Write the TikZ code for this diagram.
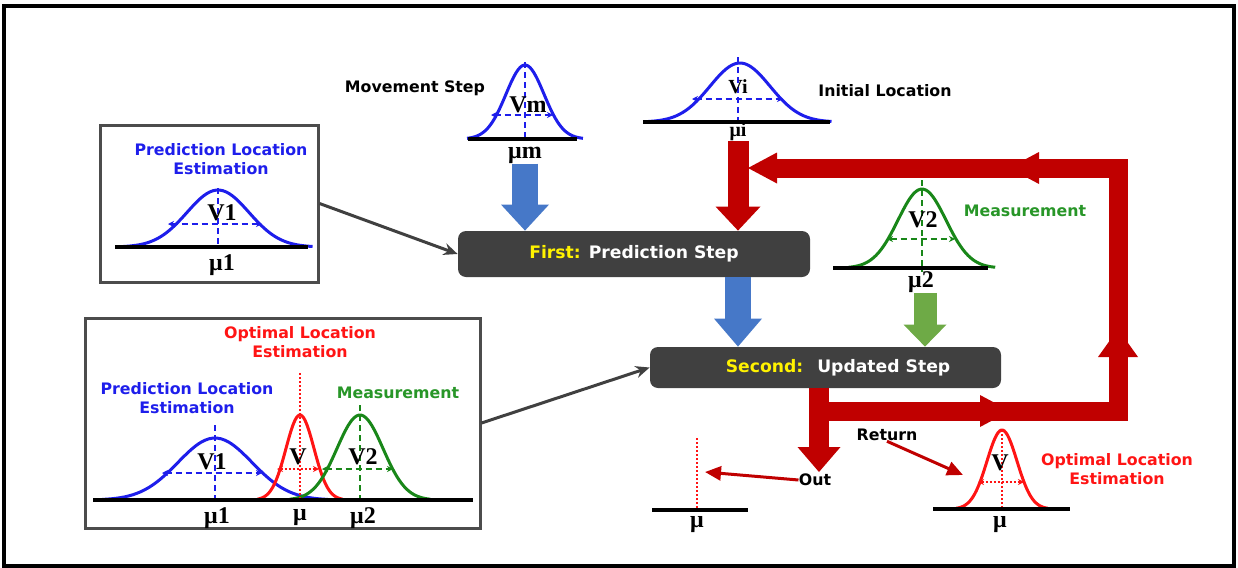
\documentclass[tikz,border=0pt]{standalone}
\usepackage{fontspec}
\setmainfont{Liberation Serif}
\setsansfont{DejaVu Sans}
\usetikzlibrary{arrows.meta,decorations.markings}
\definecolor{bcol}{RGB}{30,30,235}
\definecolor{gcol}{RGB}{25,135,25}
\definecolor{gtxt}{RGB}{40,150,40}
\definecolor{rcol}{RGB}{255,20,20}
\definecolor{dred}{RGB}{192,0,0}
\definecolor{barblue}{RGB}{70,120,200}
\definecolor{bargreen}{RGB}{110,170,70}
\definecolor{boxgray}{RGB}{64,64,64}
% bell curve: colour, mean, base line, height, sigma
\newcommand{\bell}[5]{%
  \pgfmathsetmacro\blo{#2-3.05*#5}\pgfmathsetmacro\bhi{#2+3.05*#5}
  \draw[#1,line width=1.5pt,smooth,samples=60,domain=\blo:\bhi] plot(\x,{#3-#4*exp(-((\x-#2)/#5)^2/2)});}
\begin{document}
\begin{tikzpicture}[x=0.5pt,y=-0.5pt,line join=miter,
  lbl/.style={font=\sffamily\bfseries\fontsize{7.9}{9.5}\selectfont,align=center,inner sep=0pt},
  sym/.style={font=\bfseries\fontsize{12}{13}\selectfont,inner sep=0pt},
  frame/.style={draw=black!70,line width=1.5pt,inner sep=0pt},
  stepbox/.style={fill=boxgray,rounded corners=4pt,text=white,inner sep=0pt,
    font=\sffamily\bfseries\fontsize{8.6}{10}\selectfont},
  axis/.style={line width=2pt},
  vdash/.style={line width=1pt,dash pattern=on 3pt off 2pt},
  hdash/.style={vdash,{Stealth[length=3pt,width=3pt]}-{Stealth[length=3pt,width=3pt]}},
  bar/.style n args={4}{draw=#1,line width=#2,-{Triangle[width=#3,length=#4,line width=0pt]}},
  conn/.style={draw=black!75,line width=1.5pt,-{Stealth[length=7pt,width=6pt]}},
  thinred/.style={draw=dred,line width=1.5pt,-{Triangle[length=8pt,width=7pt]}}]
\useasboundingbox (0,0) rectangle (1238,568);
\draw[line width=2pt] (4,6) rectangle (1234,566);

% boxes
\node[frame,minimum width=109pt,minimum height=78.5pt] (box1) at (209,203.5) {};
\node[frame,minimum width=197.5pt,minimum height=105pt] (box2) at (282.5,423) {};
\node[stepbox,minimum width=176pt,minimum height=23pt] (first) at (634,254)
  {{\color{yellow}First:} Prediction Step};
\node[stepbox,minimum width=175.5pt,minimum height=20.5pt] (second) at (825.5,367.5)
  {\hspace*{12.5pt}{\color{yellow}Second:}\hspace{7pt}Updated Step};

% prediction (top left box)
\node[lbl,text=bcol] (p1) at (221,159.5) {Prediction Location\\Estimation};
\bell{bcol}{218}{247}{57}{31}
\draw[bcol,vdash] (218,188) -- (218,247);
\draw[bcol,hdash] (168,224) -- (262,224);
\draw[axis] (115,247) -- (308,247);
\node[sym] (v1) at (222,213) {V1};
\node[sym] (mu1) at (222,265) {μ1};

% movement step
\node[lbl] (mv) at (415,88) {Movement Step};
\bell{bcol}{525}{139}{74}{19}
\draw[bcol,vdash] (525,62) -- (525,139);
\draw[bcol,hdash] (491,115) -- (553,115);
\draw[axis] (468,139) -- (577,139);
\node[sym] (vm) at (528,105) {Vm};
\node[sym] (mum) at (525,155) {μm};

% initial location
\node[lbl] (ini) at (885,91) {Initial Location};
\bell{bcol}{740}{122}{59}{30}
\draw[bcol,vdash] (738,57) -- (738,128);
\draw[bcol,hdash] (692,99) -- (783,99);
\draw[axis] (643,122) -- (830,122);
\node[sym,font=\bfseries\fontsize{10}{11}\selectfont] (vi) at (738,87) {Vi};
\node[sym,font=\bfseries\fontsize{10}{11}\selectfont] (mui) at (738,132) {μi};

% measurement
\node[lbl,text=gtxt] (ms) at (1025,211) {Measurement};
\bell{gcol}{922}{268}{79}{24}
\draw[gcol,vdash] (922,180) -- (922,272);
\draw[gcol,hdash] (887,239) -- (955,239);
\draw[axis] (833,268) -- (988,268);
\node[sym] (v2) at (923,220) {V2};
\node[sym] (mu2) at (921,282) {μ2};

% fusion (bottom left box)
\node[lbl,text=rcol] (o1) at (300,342) {Optimal Location\\Estimation};
\node[lbl,text=bcol] (p2) at (187,398) {Prediction Location\\Estimation};
\node[lbl,text=gtxt] (m2) at (398,393) {Measurement};
\bell{bcol}{215}{500}{62}{37}
\bell{rcol}{300}{500}{85}{14}
\bell{gcol}{360}{500}{85}{23}
\draw[bcol,vdash] (215,425) -- (215,500);
\draw[bcol,hdash] (162,473) -- (262,473);
\draw[rcol,line width=1pt,densely dotted] (300,373) -- (300,500);
\draw[rcol,hdash,densely dotted] (277,469) -- (319,469);
\draw[gcol,vdash] (360,405) -- (360,500);
\draw[gcol,hdash] (322,469) -- (393,469);
\draw[axis] (93,500) -- (473,500);
\node[sym] (v1b) at (212,462) {V1};
\node[sym] (vb) at (298,457) {V};
\node[sym] (v2b) at (363,457) {V2};
\node[sym] (mu1b) at (217,518) {μ1};
\node[sym] (mub) at (300,518) {μ};
\node[sym] (mu2b) at (363,518) {μ2};

% output
\draw[rcol,line width=1pt,densely dotted] (697,438) -- (697,510);
\draw[axis] (652,510) -- (748,510);
\node[sym] (muo) at (697,525) {μ};
\node[lbl] (out) at (815,480) {Out};
\coordinate (outtip) at (705,472);

% optimal estimate
\node[lbl,text=rcol] (o2) at (1117,469) {Optimal Location\\Estimation};
\bell{rcol}{1002}{509}{79}{15}
\draw[rcol,line width=1pt,densely dotted] (1002,430) -- (1002,509);
\draw[rcol,hdash,densely dotted] (978,482) -- (1024,482);
\draw[axis] (933,509) -- (1070,509);
\node[sym] (vr) at (1000,463) {V};
\node[sym] (mur) at (1000,525) {μ};
\node[lbl] (ret) at (887,435) {Return};
\coordinate (rtip) at (963,475);

% connectors
\draw[conn] (box1.east) -- (first.west);
\draw[conn] (box2.east) -- (second.west);
\draw[bar={barblue}{13pt}{24pt}{13pt}] (mum.south) -- (mum.south |- first.north);
\draw[bar={dred}{10.5pt}{22.5pt}{12pt}] (mui.south) -- (mui.south |- first.north);
\draw[bar={barblue}{13pt}{24pt}{14pt}] (first.south -| mui) -- (second.north -| mui);
\draw[bar={bargreen}{11.5pt}{21.5pt}{11pt}] ([xshift=2pt]mu2.south) -- ([xshift=2pt]mu2.south |- second.north);
\coordinate (fork) at (819,411);
\coordinate (join) at (748,168);
\draw[bar={dred}{10pt}{21.5pt}{12.5pt}] (second.south -| fork) -- (outtip -| fork);
\draw[bar={dred}{9.5pt}{15.5pt}{14.5pt},
  postaction={decorate,decoration={markings,
    mark=at position 95.5pt with {\arrow{Triangle[width=16pt,length=15pt,line width=0pt]}},
    mark=at position 190.5pt with {\arrow{Triangle[width=20pt,length=14pt,line width=0pt]}},
    mark=at position 325.5pt with {\arrow{Triangle[width=16pt,length=15pt,line width=0pt]}}}}]
  (fork) -- (1118,411) -- (1118,168) -- (join);
\draw[thinred] (out.west) -- (outtip);
\draw[thinred] (ret.south) -- (rtip);
\end{tikzpicture}
\end{document}
